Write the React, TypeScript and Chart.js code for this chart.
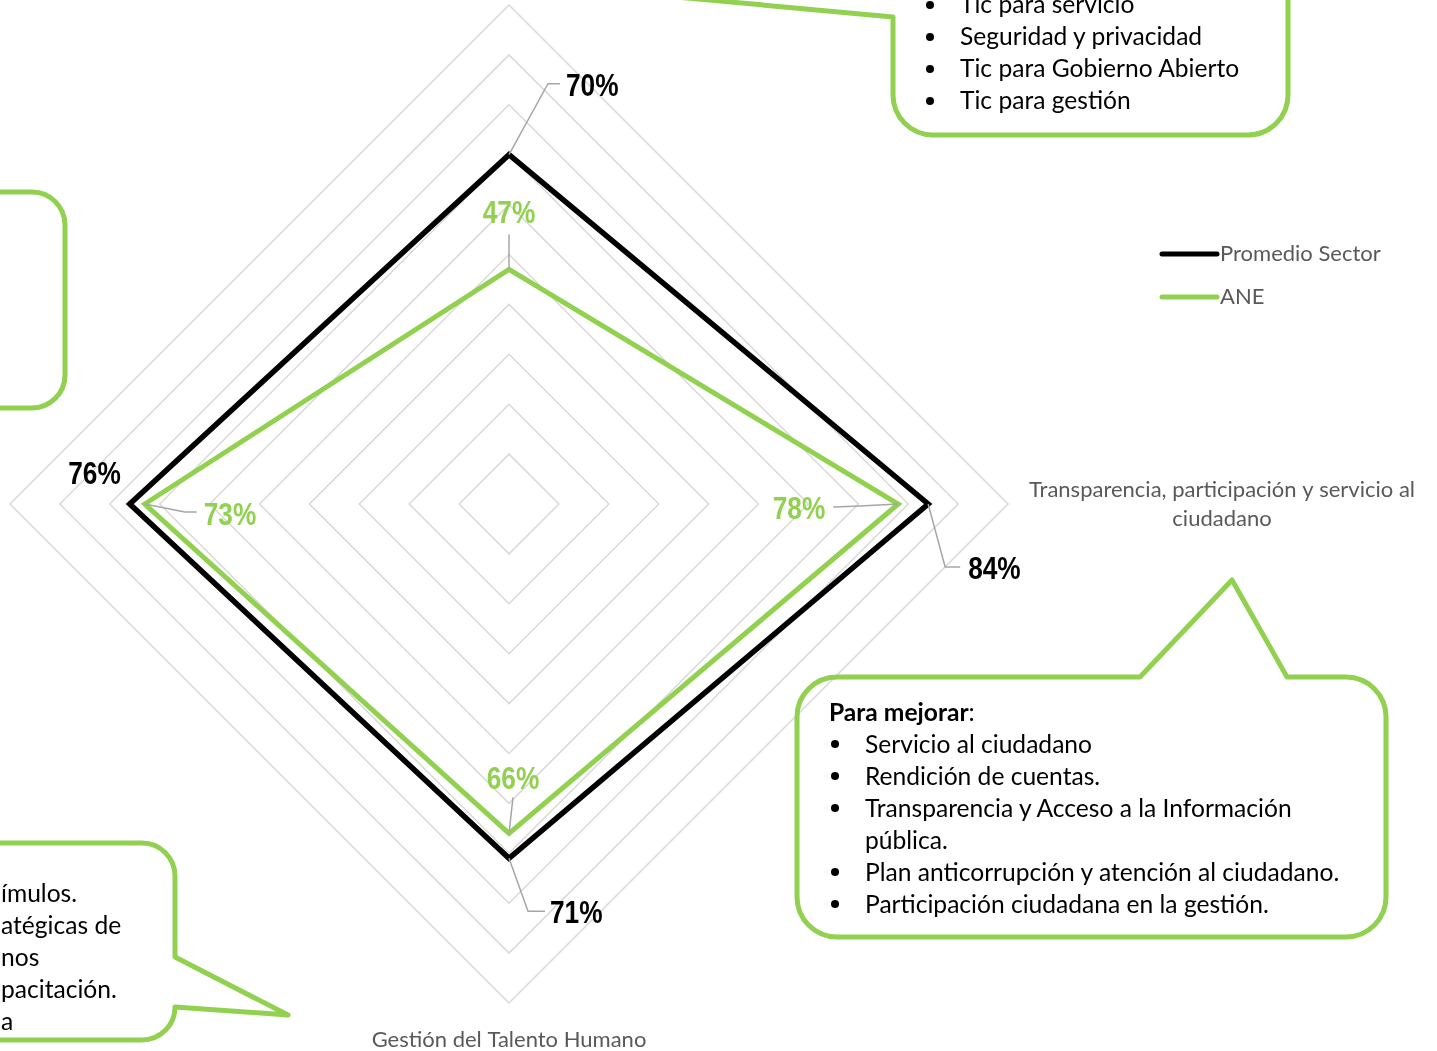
import React, { useEffect, useRef } from "react";
import { Chart, registerables } from "chart.js";

Chart.register(...registerables);

// ---------- data ----------
const categories: string[][] = [
  ["Gobierno Digital"],
  ["Transparencia, participación y servicio al", "ciudadano"],
  ["Gestión del Talento Humano"],
  ["Direccionamiento Estratégico"],
];
const promedioSector = [70, 84, 71, 76];
const ane = [47, 78, 66, 73];
const seriesNames = ["Promedio Sector", "ANE"];
const seriesColors = ["#000000", "#92D050"];
const scaleMax = 100;
const scaleStep = 10;

const topCalloutItems = ["Tic para servicio", "Seguridad y privacidad", "Tic para Gobierno Abierto", "Tic para gestión"];
const rightCalloutTitle = "Para mejorar";
const rightCalloutItems: string[][] = [
  ["Servicio al ciudadano"],
  ["Rendición de cuentas."],
  ["Transparencia y Acceso a la Información", "pública."],
  ["Plan anticorrupción y atención al ciudadano."],
  ["Participación ciudadana en la gestión."],
];
const bottomLeftFragments = ["ímulos.", "atégicas de", "nos", "pacitación.", "a"];

// ---------- label placement (relative to each point) ----------
type LabelSpec = { leader: number[][] | null; text: number[]; align: CanvasTextAlign };
const labelSpecs: LabelSpec[][] = [
  [
    { leader: [[39, -71], [51, -71]], text: [57, -68], align: "left" },
    { leader: [[17, 63], [32, 63]], text: [40, 66], align: "left" },
    { leader: [[19, 53], [36, 53]], text: [41, 56], align: "left" },
    { leader: null, text: [-9, -29], align: "right" },
  ],
  [
    { leader: [[0, -35]], text: [0, -55], align: "center" },
    { leader: [[-38, 2], [-65, 3]], text: [-73, 6], align: "right" },
    { leader: [[4, -36]], text: [4, -53], align: "center" },
    { leader: [[40, 8], [52, 8]], text: [59, 12], align: "left" },
  ],
];

const TEXT_FONT = "Lato, 'Open Sans', sans-serif";
const LABEL_FONT = "bold 32px 'Liberation Sans', Arial, sans-serif";
const LABEL_SQUEEZE = 0.82;

const decorPlugin = {
  id: "decor",
  afterDatasetsDraw(chart: any) {
    const ctx: CanvasRenderingContext2D = chart.ctx;
    const scale = chart.scales.r;
    ctx.save();
    // data labels with leader lines
    chart.data.datasets.forEach((ds: any, di: number) => {
      ds.data.forEach((v: number, j: number) => {
        const p = scale.getPointPositionForValue(j, v);
        const spec = labelSpecs[di][j];
        if (spec.leader) {
          ctx.beginPath();
          ctx.strokeStyle = "#A6A6A6";
          ctx.lineWidth = 1.5;
          ctx.moveTo(p.x, p.y);
          spec.leader.forEach((o) => ctx.lineTo(p.x + o[0], p.y + o[1]));
          ctx.stroke();
        }
        ctx.save();
        ctx.font = LABEL_FONT;
        ctx.fillStyle = ds.borderColor;
        ctx.textAlign = spec.align;
        ctx.textBaseline = "middle";
        ctx.translate(p.x + spec.text[0], p.y + spec.text[1]);
        ctx.scale(LABEL_SQUEEZE, 1);
        ctx.fillText(v + "%", 0, 0);
        ctx.restore();
      });
    });
    // axis (point) labels
    ctx.font = `22px ${TEXT_FONT}`;
    ctx.fillStyle = "#595959";
    ctx.textBaseline = "middle";
    ctx.textAlign = "center";
    const lh = 29;
    chart.data.labels.forEach((lines: string[], j: number) => {
      const o = scale.getPointPositionForValue(j, scaleMax);
      const w = Math.max(...lines.map((l) => ctx.measureText(l).width));
      const n = lines.length;
      let cx = o.x;
      let cy = o.y;
      const ang = scale.getIndexAngle(j) - Math.PI / 2;
      const c = Math.cos(ang);
      const s = Math.sin(ang);
      if (c > 0.1) cx = o.x + 21 + w / 2;
      else if (c < -0.1) cx = o.x - 21 - w / 2;
      if (s > 0.1) cy = o.y + 37 + ((n - 1) * lh) / 2;
      else if (s < -0.1) cy = o.y - 37 - ((n - 1) * lh) / 2;
      lines.forEach((l, k) => ctx.fillText(l, cx, cy - ((n - 1) * lh) / 2 + k * lh));
    });
    // legend
    const legendX = 1162;
    const legendY = [254, 297];
    chart.data.datasets.forEach((ds: any, di: number) => {
      const y = legendY[di];
      ctx.beginPath();
      ctx.strokeStyle = ds.borderColor;
      ctx.lineWidth = 5;
      ctx.lineCap = "round";
      ctx.moveTo(legendX, y);
      ctx.lineTo(legendX + 55, y);
      ctx.stroke();
      ctx.fillStyle = "#595959";
      ctx.textAlign = "left";
      ctx.font = `22px ${TEXT_FONT}`;
      ctx.fillText(ds.label, legendX + 58, y);
    });
    ctx.restore();
  },
};

const GREEN = "#92D050";

function Dot({ x, y }: { x: number; y: number }) {
  return (
    <div
      style={{
        position: "absolute",
        left: x - 4,
        top: y - 4,
        width: 8,
        height: 8,
        borderRadius: 4,
        background: "#000",
      }}
    />
  );
}

export default function App() {
  const ref = useRef<HTMLCanvasElement | null>(null);
  useEffect(() => {
    if (!ref.current) return;
    const chart = new Chart(ref.current, {
      type: "radar",
      data: {
        labels: categories as any,
        datasets: [
          {
            label: seriesNames[0],
            data: promedioSector,
            borderColor: seriesColors[0],
            backgroundColor: "rgba(0,0,0,0)",
            borderWidth: 5.5,
            pointRadius: 0,
            pointHoverRadius: 0,
            fill: false,
            borderJoinStyle: "miter",
          },
          {
            label: seriesNames[1],
            data: ane,
            borderColor: seriesColors[1],
            backgroundColor: "rgba(0,0,0,0)",
            borderWidth: 5,
            pointRadius: 0,
            pointHoverRadius: 0,
            fill: false,
            borderJoinStyle: "miter",
          },
        ],
      },
      options: {
        responsive: false,
        animation: false,
        devicePixelRatio: 1,
        layout: { padding: { left: 10, top: 5, right: 429, bottom: 48 } },
        plugins: { legend: { display: false }, tooltip: { enabled: false } },
        scales: {
          r: {
            min: 0,
            max: scaleMax,
            ticks: { display: false, stepSize: scaleStep },
            grid: { color: "#D9D9D9", lineWidth: 1.5 },
            angleLines: { display: false },
            pointLabels: { display: false },
          },
        },
      },
      plugins: [decorPlugin],
    });
    return () => chart.destroy();
  }, []);

  const textStyle: React.CSSProperties = {
    position: "absolute",
    fontFamily: TEXT_FONT,
    fontSize: 24.6,
    lineHeight: "32px",
    color: "#000",
    whiteSpace: "nowrap",
  };

  // right callout rows
  const rightRows: { text: string; bullet: boolean }[] = [];
  rightCalloutItems.forEach((item) =>
    item.forEach((t, k) => rightRows.push({ text: t, bullet: k === 0 }))
  );

  return (
    <div
      style={{
        position: "absolute",
        left: 0,
        top: 0,
        width: 1437,
        height: 1051,
        overflow: "hidden",
        background: "#fff",
      }}
    >
      <canvas ref={ref} width={1437} height={1051} style={{ position: "absolute", left: 0, top: 0 }} />
      <svg
        width={1437}
        height={1051}
        style={{ position: "absolute", left: 0, top: 0, pointerEvents: "none" }}
      >
        <g fill="none" stroke={GREEN} strokeWidth={5} strokeLinejoin="round">
          <path d="M 1288 -200 L 1288 95 A 40 40 0 0 1 1248 135 L 933 135 A 40 40 0 0 1 893 95 L 893 17 L 600 -10 L 893 -40 L 893 -200" />
          <path d="M -100 192 L 32 192 A 33 33 0 0 1 65 225 L 65 375 A 33 33 0 0 1 32 408 L -100 408" />
          <path d="M -100 843 L 142 843 A 33 33 0 0 1 175 876 L 175 957 L 288 1015 L 175 1007 A 33 33 0 0 1 142 1040 L -100 1040" />
          <path d="M 837 677 L 1140 677 L 1232 580 L 1287 677 L 1346 677 A 40 40 0 0 1 1386 717 L 1386 897 A 40 40 0 0 1 1346 937 L 837 937 A 40 40 0 0 1 797 897 L 797 717 A 40 40 0 0 1 837 677 Z" />
        </g>
      </svg>

      {/* top callout */}
      {topCalloutItems.map((t, i) => (
        <React.Fragment key={"t" + i}>
          <Dot x={930} y={5 + i * 32} />
          <div style={{ ...textStyle, left: 960, top: -12 + i * 32 }}>{t}</div>
        </React.Fragment>
      ))}

      {/* right callout */}
      <div style={{ ...textStyle, left: 829, top: 696 }}>
        <b>{rightCalloutTitle}</b>:
      </div>
      {rightRows.map((r, i) => (
        <React.Fragment key={"r" + i}>
          {r.bullet && <Dot x={835} y={744 + i * 32} />}
          <div style={{ ...textStyle, left: 865, top: 728 + i * 32 }}>{r.text}</div>
        </React.Fragment>
      ))}

      {/* bottom-left callout (cut off) */}
      {bottomLeftFragments.map((t, i) => (
        <div key={"b" + i} style={{ ...textStyle, left: 1, top: 877 + i * 32 }}>
          {t}
        </div>
      ))}
    </div>
  );
}
